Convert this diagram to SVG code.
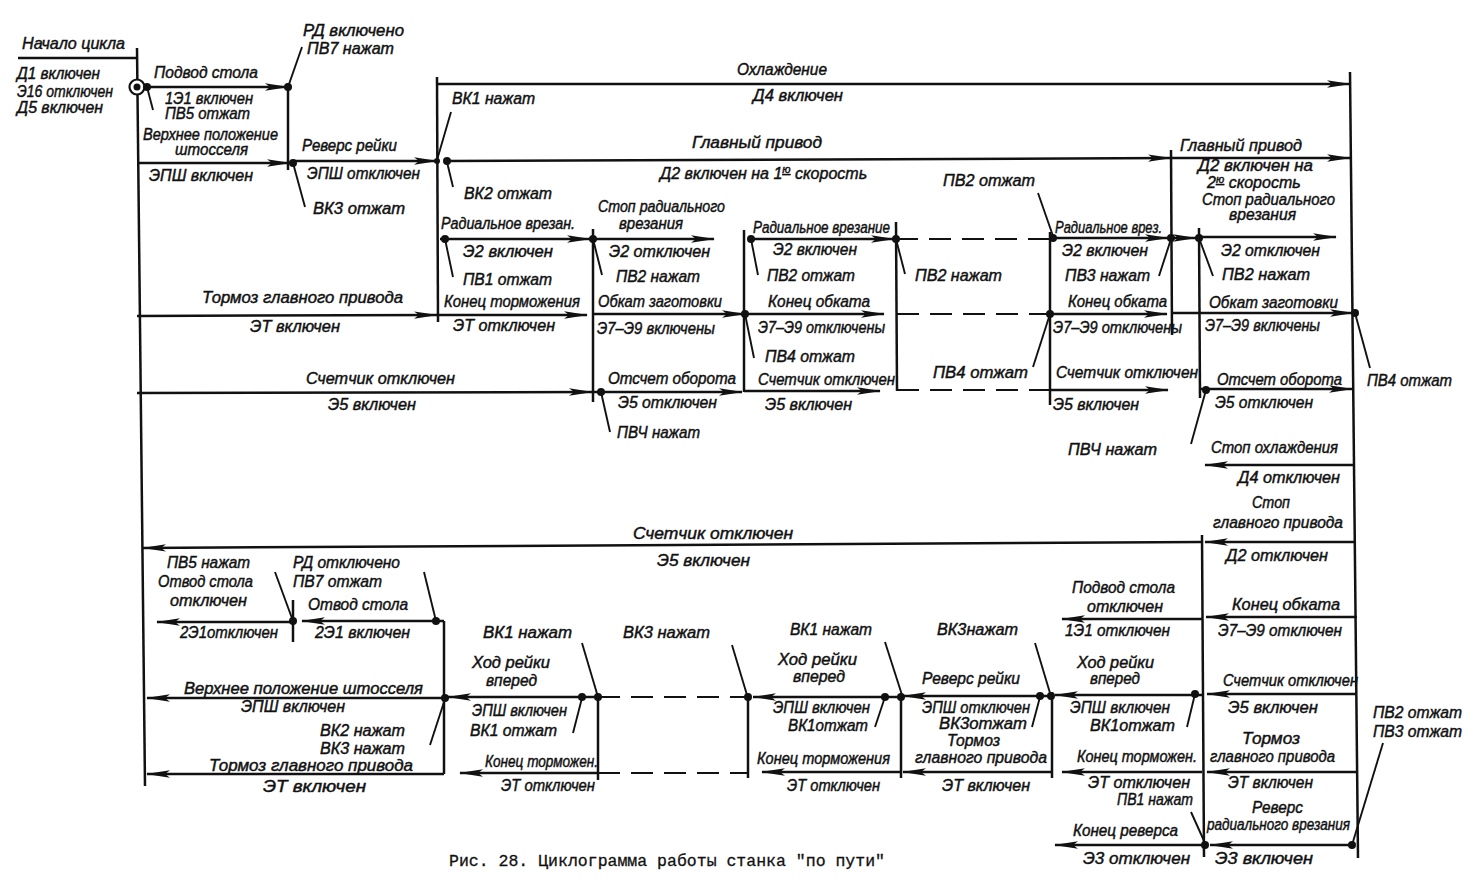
<svg xmlns="http://www.w3.org/2000/svg" width="1482" height="887" viewBox="0 0 1482 887">
<defs>
<marker id="ah" markerUnits="userSpaceOnUse" markerWidth="24" markerHeight="9" refX="23" refY="4.5" orient="auto">
<path d="M0,0.8 L24,4.5 L0,8.2 L5,4.5 z" fill="#111"/>
</marker>
</defs>
<style>
.t{font-family:"Liberation Sans",Arial,sans-serif;font-style:italic;font-size:16px;fill:#111;stroke:#111;stroke-width:0.45}
.cap{font-family:"Liberation Mono","Courier New",monospace;font-size:16.5px;fill:#111;stroke:#111;stroke-width:0.3}
.ln{stroke:#111;stroke-width:2.5;fill:none}
.ar{stroke:#111;stroke-width:2.5;fill:none;marker-end:url(#ah)}
.ds{stroke:#111;stroke-width:2.2;fill:none;stroke-dasharray:22 11}
.tk{stroke:#111;stroke-width:1.9}
.dot{fill:#111}
.sup{font-size:11px;text-decoration:underline}
</style>
<rect width="1482" height="887" fill="#fff"/>

<g id="connectors">
<line class="ln" x1="137" y1="48" x2="145" y2="786"/>
<line class="ln" x1="18" y1="58" x2="137" y2="58"/>
<line class="ln" x1="288" y1="83" x2="288" y2="170"/>
<line class="ln" x1="437" y1="77" x2="438" y2="322"/>
<line class="ln" x1="593" y1="229" x2="593" y2="402"/>
<line class="ln" x1="744" y1="230" x2="744" y2="392"/>
<line class="ln" x1="896" y1="222" x2="897" y2="391"/>
<line class="ln" x1="1050" y1="232" x2="1050" y2="405"/>
<line class="ln" x1="1171" y1="150" x2="1172" y2="335"/>
<line class="ln" x1="1199" y1="228" x2="1200" y2="398"/>
<line class="ln" x1="1350" y1="72" x2="1358" y2="858"/>
<line class="ln" x1="1202" y1="535" x2="1204" y2="857"/>
<line class="ln" x1="293" y1="600" x2="293" y2="642"/>
<line class="ln" x1="444" y1="621" x2="444" y2="774"/>
<line class="ln" x1="598" y1="697" x2="598" y2="780"/>
<line class="ln" x1="748" y1="695" x2="748" y2="778"/>
<line class="ln" x1="901" y1="697" x2="901" y2="778"/>
<line class="ln" x1="1052" y1="692" x2="1052" y2="778"/>
<line class="ar" x1="147" y1="87" x2="288" y2="87"/>
<line class="ar" x1="137" y1="163" x2="290" y2="163"/>
<line class="ar" x1="293" y1="161" x2="437" y2="161"/>
<line class="ar" x1="437" y1="84" x2="1350" y2="84"/>
<line class="ar" x1="447" y1="161" x2="1171" y2="158"/>
<line class="ar" x1="1171" y1="158" x2="1350" y2="158"/>
<line class="ar" x1="440" y1="239" x2="590" y2="239"/>
<line class="ar" x1="593" y1="239" x2="714" y2="239"/>
<line class="ar" x1="751" y1="239" x2="894" y2="239"/>
<line class="ds" x1="896" y1="239" x2="1050" y2="239"/>
<line class="ar" x1="1053" y1="238" x2="1168" y2="238"/>
<line class="ar" x1="1171" y1="238" x2="1196" y2="238"/>
<line class="ar" x1="1199" y1="237" x2="1336" y2="237"/>
<line class="ar" x1="137" y1="316" x2="437" y2="315"/>
<line class="ar" x1="438" y1="315" x2="587" y2="315"/>
<line class="ar" x1="593" y1="314" x2="745" y2="314"/>
<line class="ar" x1="745" y1="314" x2="884" y2="314"/>
<line class="ds" x1="897" y1="314" x2="1050" y2="314"/>
<line class="ar" x1="1050" y1="314" x2="1167" y2="314"/>
<line class="ar" x1="1172" y1="313" x2="1353" y2="313"/>
<line class="ar" x1="137" y1="393" x2="592" y2="392"/>
<line class="ar" x1="593" y1="392" x2="742" y2="392"/>
<line class="ar" x1="744" y1="391" x2="880" y2="391"/>
<line class="ds" x1="897" y1="390" x2="1050" y2="390"/>
<line class="ar" x1="1050" y1="390" x2="1168" y2="390"/>
<line class="ar" x1="1200" y1="389" x2="1352" y2="389"/>
<line class="ar" x1="1355" y1="465" x2="1205" y2="465"/>
<line class="ar" x1="1356" y1="542" x2="1205" y2="542"/>
<line class="ar" x1="1202" y1="542" x2="143" y2="548"/>
<line class="ar" x1="293" y1="622" x2="157" y2="622"/>
<line class="ar" x1="444" y1="621" x2="302" y2="621"/>
<line class="ar" x1="444" y1="698" x2="147" y2="698"/>
<line class="ar" x1="444" y1="774" x2="147" y2="774"/>
<line class="ar" x1="582" y1="697" x2="448" y2="697"/>
<line class="ln" x1="582" y1="697" x2="598" y2="697"/>
<line class="ds" x1="598" y1="697" x2="748" y2="697"/>
<line class="ar" x1="598" y1="773" x2="460" y2="773"/>
<line class="ds" x1="598" y1="773" x2="748" y2="773"/>
<line class="ar" x1="885" y1="697" x2="753" y2="697"/>
<line class="ln" x1="885" y1="697" x2="901" y2="697"/>
<line class="ar" x1="901" y1="772" x2="762" y2="772"/>
<line class="ar" x1="1040" y1="696" x2="903" y2="696"/>
<line class="ln" x1="1040" y1="696" x2="1052" y2="696"/>
<line class="ar" x1="1052" y1="772" x2="903" y2="772"/>
<line class="ar" x1="1202" y1="619" x2="1062" y2="619"/>
<line class="ar" x1="1357" y1="617" x2="1206" y2="617"/>
<line class="ar" x1="1202" y1="695" x2="1055" y2="695"/>
<line class="ar" x1="1357" y1="694" x2="1207" y2="694"/>
<line class="ar" x1="1357" y1="772" x2="1207" y2="772"/>
<line class="ar" x1="1202" y1="772" x2="1062" y2="772"/>
<line class="ar" x1="1352" y1="845" x2="1210" y2="845"/>
<line class="ar" x1="1204" y1="845" x2="1055" y2="845"/>
<line class="tk" x1="147" y1="87" x2="153" y2="110"/>
<line class="tk" x1="288" y1="87" x2="302" y2="47"/>
<line class="tk" x1="293" y1="163" x2="305" y2="207"/>
<line class="tk" x1="437" y1="160" x2="451" y2="112"/>
<line class="tk" x1="447" y1="162" x2="453" y2="187"/>
<line class="tk" x1="445" y1="239" x2="453" y2="277"/>
<line class="tk" x1="593" y1="239" x2="602" y2="275"/>
<line class="tk" x1="751" y1="239" x2="758" y2="275"/>
<line class="tk" x1="896" y1="239" x2="905" y2="274"/>
<line class="tk" x1="1038" y1="193" x2="1053" y2="236"/>
<line class="tk" x1="1171" y1="239" x2="1159" y2="276"/>
<line class="tk" x1="1199" y1="238" x2="1213" y2="276"/>
<line class="tk" x1="745" y1="314" x2="754" y2="358"/>
<line class="tk" x1="1050" y1="314" x2="1033" y2="367"/>
<line class="tk" x1="1355" y1="313" x2="1370" y2="368"/>
<line class="tk" x1="601" y1="392" x2="610" y2="432"/>
<line class="tk" x1="1206" y1="390" x2="1191" y2="444"/>
<line class="tk" x1="293" y1="621" x2="275" y2="572"/>
<line class="tk" x1="436" y1="621" x2="424" y2="572"/>
<line class="tk" x1="445" y1="699" x2="430" y2="745"/>
<line class="tk" x1="582" y1="643" x2="598" y2="697"/>
<line class="tk" x1="582" y1="698" x2="573" y2="733"/>
<line class="tk" x1="732" y1="645" x2="747" y2="695"/>
<line class="tk" x1="885" y1="642" x2="902" y2="695"/>
<line class="tk" x1="885" y1="697" x2="875" y2="727"/>
<line class="tk" x1="1035" y1="643" x2="1050" y2="693"/>
<line class="tk" x1="1040" y1="697" x2="1032" y2="727"/>
<line class="tk" x1="1195" y1="694" x2="1187" y2="727"/>
<line class="tk" x1="1205" y1="843" x2="1191" y2="812"/>
<line class="tk" x1="1352" y1="845" x2="1383" y2="743"/>
</g>

<g id="node-start">
<circle cx="137" cy="87" r="7.5" fill="#fff" stroke="#111" stroke-width="2.2"/>
<circle cx="137" cy="87" r="3.5" class="dot"/>
<text class="t" x="22" y="49" textLength="103" lengthAdjust="spacingAndGlyphs">Начало цикла</text>
<text class="t" x="17" y="79" textLength="83" lengthAdjust="spacingAndGlyphs">Д1 включен</text>
<text class="t" x="17" y="97" textLength="96" lengthAdjust="spacingAndGlyphs">Э16 отключен</text>
<text class="t" x="17" y="113" textLength="86" lengthAdjust="spacingAndGlyphs">Д5 включен</text>
</g>

<g id="node-podvod">
<circle cx="147" cy="87" r="4" class="dot"/>
<circle cx="288" cy="87" r="4" class="dot"/>
<text class="t" x="154" y="78" textLength="104" lengthAdjust="spacingAndGlyphs">Подвод стола</text>
<text class="t" x="165" y="104" textLength="88" lengthAdjust="spacingAndGlyphs">1Э1 включен</text>
<text class="t" x="165" y="119" textLength="85" lengthAdjust="spacingAndGlyphs">ПВ5 отжат</text>
<text class="t" x="303" y="36" textLength="101" lengthAdjust="spacingAndGlyphs">РД включено</text>
<text class="t" x="307" y="54" textLength="87" lengthAdjust="spacingAndGlyphs">ПВ7 нажат</text>
</g>

<g id="node-shtossel">
<circle cx="293" cy="163" r="4" class="dot"/>
<text class="t" x="143" y="140" textLength="135" lengthAdjust="spacingAndGlyphs">Верхнее положение</text>
<text class="t" x="175" y="155" textLength="73" lengthAdjust="spacingAndGlyphs">штосселя</text>
<text class="t" x="149" y="181" textLength="104" lengthAdjust="spacingAndGlyphs">ЭПШ включен</text>
<text class="t" x="302" y="151" textLength="95" lengthAdjust="spacingAndGlyphs">Реверс рейки</text>
<text class="t" x="307" y="179" textLength="113" lengthAdjust="spacingAndGlyphs">ЭПШ отключен</text>
<text class="t" x="313" y="214" textLength="92" lengthAdjust="spacingAndGlyphs">ВК3 отжат</text>
</g>

<g id="node-main-drive">
<circle cx="437" cy="161" r="3" class="dot"/>
<circle cx="447" cy="161" r="4" class="dot"/>
<text class="t" x="737" y="75" textLength="90" lengthAdjust="spacingAndGlyphs">Охлаждение</text>
<text class="t" x="753" y="101" textLength="90" lengthAdjust="spacingAndGlyphs">Д4 включен</text>
<text class="t" x="452" y="104" textLength="83" lengthAdjust="spacingAndGlyphs">ВК1 нажат</text>
<text class="t" x="692" y="148" textLength="130" lengthAdjust="spacingAndGlyphs">Главный привод</text>
<text class="t" x="660" y="179">Д2 включен на 1<tspan class="sup" dy="-6">ю</tspan><tspan dy="6"> скорость</tspan></text>
<text class="t" x="464" y="199" textLength="88" lengthAdjust="spacingAndGlyphs">ВК2 отжат</text>
<text class="t" x="1180" y="151" textLength="122" lengthAdjust="spacingAndGlyphs">Главный привод</text>
<text class="t" x="1198" y="171" textLength="115" lengthAdjust="spacingAndGlyphs">Д2 включен на</text>
<text class="t" x="1207" y="188">2<tspan class="sup" dy="-5">ю</tspan><tspan dy="5"> скорость</tspan></text>
</g>

<g id="node-radial">
<circle cx="445" cy="239" r="4" class="dot"/>
<circle cx="593" cy="239" r="4" class="dot"/>
<circle cx="751" cy="239" r="4" class="dot"/>
<circle cx="896" cy="239" r="4" class="dot"/>
<circle cx="1053" cy="238" r="4" class="dot"/>
<circle cx="1171" cy="238" r="4" class="dot"/>
<circle cx="1199" cy="238" r="4" class="dot"/>
<text class="t" x="441" y="229" textLength="134" lengthAdjust="spacingAndGlyphs">Радиальное врезан.</text>
<text class="t" x="463" y="257" textLength="90" lengthAdjust="spacingAndGlyphs">Э2 включен</text>
<text class="t" x="463" y="285" textLength="89" lengthAdjust="spacingAndGlyphs">ПВ1 отжат</text>
<text class="t" x="598" y="212" textLength="127" lengthAdjust="spacingAndGlyphs">Стоп радиального</text>
<text class="t" x="619" y="229" textLength="64" lengthAdjust="spacingAndGlyphs">врезания</text>
<text class="t" x="609" y="257" textLength="101" lengthAdjust="spacingAndGlyphs">Э2 отключен</text>
<text class="t" x="616" y="282" textLength="84" lengthAdjust="spacingAndGlyphs">ПВ2 нажат</text>
<text class="t" x="753" y="233" textLength="137" lengthAdjust="spacingAndGlyphs">Радиальное врезание</text>
<text class="t" x="773" y="255" textLength="84" lengthAdjust="spacingAndGlyphs">Э2 включен</text>
<text class="t" x="767" y="281" textLength="88" lengthAdjust="spacingAndGlyphs">ПВ2 отжат</text>
<text class="t" x="915" y="281" textLength="87" lengthAdjust="spacingAndGlyphs">ПВ2 нажат</text>
<text class="t" x="943" y="186" textLength="92" lengthAdjust="spacingAndGlyphs">ПВ2 отжат</text>
<text class="t" x="1055" y="233" textLength="107" lengthAdjust="spacingAndGlyphs">Радиальное врез.</text>
<text class="t" x="1062" y="256" textLength="86" lengthAdjust="spacingAndGlyphs">Э2 включен</text>
<text class="t" x="1065" y="281" textLength="85" lengthAdjust="spacingAndGlyphs">ПВ3 нажат</text>
<text class="t" x="1202" y="205" textLength="133" lengthAdjust="spacingAndGlyphs">Стоп радиального</text>
<text class="t" x="1229" y="220" textLength="67" lengthAdjust="spacingAndGlyphs">врезания</text>
<text class="t" x="1221" y="256" textLength="99" lengthAdjust="spacingAndGlyphs">Э2 отключен</text>
<text class="t" x="1222" y="280" textLength="88" lengthAdjust="spacingAndGlyphs">ПВ2 нажат</text>
</g>

<g id="node-brake">
<circle cx="745" cy="314" r="4" class="dot"/>
<circle cx="1050" cy="314" r="4" class="dot"/>
<circle cx="1355" cy="313" r="4" class="dot"/>
<text class="t" x="202" y="303" textLength="201" lengthAdjust="spacingAndGlyphs">Тормоз главного привода</text>
<text class="t" x="250" y="332" textLength="90" lengthAdjust="spacingAndGlyphs">ЭТ включен</text>
<text class="t" x="444" y="307" textLength="136" lengthAdjust="spacingAndGlyphs">Конец торможения</text>
<text class="t" x="453" y="331" textLength="102" lengthAdjust="spacingAndGlyphs">ЭТ отключен</text>
<text class="t" x="598" y="307" textLength="124" lengthAdjust="spacingAndGlyphs">Обкат заготовки</text>
<text class="t" x="597" y="334" textLength="118" lengthAdjust="spacingAndGlyphs">Э7–Э9 включены</text>
<text class="t" x="768" y="307" textLength="102" lengthAdjust="spacingAndGlyphs">Конец обката</text>
<text class="t" x="758" y="333" textLength="127" lengthAdjust="spacingAndGlyphs">Э7–Э9 отключены</text>
<text class="t" x="765" y="362" textLength="90" lengthAdjust="spacingAndGlyphs">ПВ4 отжат</text>
<text class="t" x="933" y="378" textLength="95" lengthAdjust="spacingAndGlyphs">ПВ4 отжат</text>
<text class="t" x="1068" y="307" textLength="99" lengthAdjust="spacingAndGlyphs">Конец обката</text>
<text class="t" x="1053" y="333" textLength="129" lengthAdjust="spacingAndGlyphs">Э7–Э9 отключены</text>
<text class="t" x="1209" y="308" textLength="129" lengthAdjust="spacingAndGlyphs">Обкат заготовки</text>
<text class="t" x="1205" y="331" textLength="115" lengthAdjust="spacingAndGlyphs">Э7–Э9 включены</text>
<text class="t" x="1367" y="386" textLength="85" lengthAdjust="spacingAndGlyphs">ПВ4 отжат</text>
</g>

<g id="node-counter">
<circle cx="601" cy="392" r="4" class="dot"/>
<circle cx="1206" cy="390" r="4" class="dot"/>
<text class="t" x="306" y="384" textLength="149" lengthAdjust="spacingAndGlyphs">Счетчик отключен</text>
<text class="t" x="328" y="410" textLength="88" lengthAdjust="spacingAndGlyphs">Э5 включен</text>
<text class="t" x="608" y="384" textLength="128" lengthAdjust="spacingAndGlyphs">Отсчет оборота</text>
<text class="t" x="618" y="408" textLength="99" lengthAdjust="spacingAndGlyphs">Э5 отключен</text>
<text class="t" x="617" y="438" textLength="83" lengthAdjust="spacingAndGlyphs">ПВЧ нажат</text>
<text class="t" x="758" y="385" textLength="137" lengthAdjust="spacingAndGlyphs">Счетчик отключен</text>
<text class="t" x="765" y="410" textLength="87" lengthAdjust="spacingAndGlyphs">Э5 включен</text>
<text class="t" x="1056" y="378" textLength="142" lengthAdjust="spacingAndGlyphs">Счетчик отключен</text>
<text class="t" x="1053" y="410" textLength="86" lengthAdjust="spacingAndGlyphs">Э5 включен</text>
<text class="t" x="1068" y="455" textLength="89" lengthAdjust="spacingAndGlyphs">ПВЧ нажат</text>
<text class="t" x="1217" y="385" textLength="125" lengthAdjust="spacingAndGlyphs">Отсчет оборота</text>
<text class="t" x="1215" y="408" textLength="98" lengthAdjust="spacingAndGlyphs">Э5 отключен</text>
</g>

<g id="node-stop">
<text class="t" x="1211" y="453" textLength="127" lengthAdjust="spacingAndGlyphs">Стоп охлаждения</text>
<text class="t" x="1238" y="483" textLength="102" lengthAdjust="spacingAndGlyphs">Д4 отключен</text>
<text class="t" x="1252" y="508" textLength="38" lengthAdjust="spacingAndGlyphs">Стоп</text>
<text class="t" x="1213" y="528" textLength="130" lengthAdjust="spacingAndGlyphs">главного привода</text>
<text class="t" x="1226" y="561" textLength="102" lengthAdjust="spacingAndGlyphs">Д2 отключен</text>
<text class="t" x="633" y="539" textLength="160" lengthAdjust="spacingAndGlyphs">Счетчик отключен</text>
<text class="t" x="657" y="566" textLength="93" lengthAdjust="spacingAndGlyphs">Э5 включен</text>
</g>

<g id="node-otvod">
<circle cx="293" cy="621" r="4" class="dot"/>
<circle cx="436" cy="621" r="4" class="dot"/>
<circle cx="445" cy="698" r="4" class="dot"/>
<text class="t" x="167" y="568" textLength="83" lengthAdjust="spacingAndGlyphs">ПВ5 нажат</text>
<text class="t" x="158" y="587" textLength="95" lengthAdjust="spacingAndGlyphs">Отвод стола</text>
<text class="t" x="170" y="606" textLength="77" lengthAdjust="spacingAndGlyphs">отключен</text>
<text class="t" x="293" y="568" textLength="107" lengthAdjust="spacingAndGlyphs">РД отключено</text>
<text class="t" x="293" y="587" textLength="89" lengthAdjust="spacingAndGlyphs">ПВ7 отжат</text>
<text class="t" x="308" y="610" textLength="100" lengthAdjust="spacingAndGlyphs">Отвод стола</text>
<text class="t" x="180" y="638" textLength="98" lengthAdjust="spacingAndGlyphs">2Э1отключен</text>
<text class="t" x="315" y="638" textLength="95" lengthAdjust="spacingAndGlyphs">2Э1 включен</text>
<text class="t" x="184" y="694" textLength="239" lengthAdjust="spacingAndGlyphs">Верхнее положение штосселя</text>
<text class="t" x="241" y="712" textLength="104" lengthAdjust="spacingAndGlyphs">ЭПШ включен</text>
<text class="t" x="320" y="736" textLength="85" lengthAdjust="spacingAndGlyphs">ВК2 нажат</text>
<text class="t" x="320" y="754" textLength="85" lengthAdjust="spacingAndGlyphs">ВК3 нажат</text>
<text class="t" x="209" y="771" textLength="204" lengthAdjust="spacingAndGlyphs">Тормоз главного привода</text>
<text class="t" x="263" y="792" textLength="103" lengthAdjust="spacingAndGlyphs">ЭТ включен</text>
</g>

<g id="node-rack-1">
<circle cx="582" cy="697" r="4" class="dot"/>
<circle cx="598" cy="697" r="4" class="dot"/>
<text class="t" x="483" y="638" textLength="89" lengthAdjust="spacingAndGlyphs">ВК1 нажат</text>
<text class="t" x="623" y="638" textLength="87" lengthAdjust="spacingAndGlyphs">ВК3 нажат</text>
<text class="t" x="472" y="668" textLength="78" lengthAdjust="spacingAndGlyphs">Ход рейки</text>
<text class="t" x="486" y="686" textLength="51" lengthAdjust="spacingAndGlyphs">вперед</text>
<text class="t" x="472" y="716" textLength="95" lengthAdjust="spacingAndGlyphs">ЭПШ включен</text>
<text class="t" x="470" y="736" textLength="87" lengthAdjust="spacingAndGlyphs">ВК1 отжат</text>
<text class="t" x="485" y="767" textLength="113" lengthAdjust="spacingAndGlyphs">Конец торможен.</text>
<text class="t" x="501" y="791" textLength="94" lengthAdjust="spacingAndGlyphs">ЭТ отключен</text>
</g>

<g id="node-rack-2">
<circle cx="748" cy="697" r="4" class="dot"/>
<circle cx="885" cy="697" r="4" class="dot"/>
<circle cx="901" cy="697" r="4" class="dot"/>
<text class="t" x="790" y="635" textLength="82" lengthAdjust="spacingAndGlyphs">ВК1 нажат</text>
<text class="t" x="778" y="665" textLength="79" lengthAdjust="spacingAndGlyphs">Ход рейки</text>
<text class="t" x="793" y="682" textLength="52" lengthAdjust="spacingAndGlyphs">вперед</text>
<text class="t" x="773" y="713" textLength="97" lengthAdjust="spacingAndGlyphs">ЭПШ включен</text>
<text class="t" x="788" y="731" textLength="80" lengthAdjust="spacingAndGlyphs">ВК1отжат</text>
<text class="t" x="757" y="764" textLength="133" lengthAdjust="spacingAndGlyphs">Конец торможения</text>
<text class="t" x="787" y="791" textLength="93" lengthAdjust="spacingAndGlyphs">ЭТ отключен</text>
</g>

<g id="node-rack-reverse">
<circle cx="1040" cy="696" r="4" class="dot"/>
<circle cx="1051" cy="696" r="4" class="dot"/>
<text class="t" x="937" y="635" textLength="81" lengthAdjust="spacingAndGlyphs">ВК3нажат</text>
<text class="t" x="922" y="684" textLength="98" lengthAdjust="spacingAndGlyphs">Реверс рейки</text>
<text class="t" x="922" y="713" textLength="108" lengthAdjust="spacingAndGlyphs">ЭПШ отключен</text>
<text class="t" x="939" y="729" textLength="88" lengthAdjust="spacingAndGlyphs">ВК3отжат</text>
<text class="t" x="947" y="746" textLength="53" lengthAdjust="spacingAndGlyphs">Тормоз</text>
<text class="t" x="915" y="763" textLength="132" lengthAdjust="spacingAndGlyphs">главного привода</text>
<text class="t" x="942" y="791" textLength="88" lengthAdjust="spacingAndGlyphs">ЭТ включен</text>
</g>

<g id="node-lower-right">
<circle cx="1195" cy="694" r="4" class="dot"/>
<circle cx="1205" cy="845" r="4" class="dot"/>
<circle cx="1352" cy="845" r="4" class="dot"/>
<text class="t" x="1072" y="593" textLength="103" lengthAdjust="spacingAndGlyphs">Подвод стола</text>
<text class="t" x="1087" y="612" textLength="76" lengthAdjust="spacingAndGlyphs">отключен</text>
<text class="t" x="1065" y="636" textLength="105" lengthAdjust="spacingAndGlyphs">1Э1 отключен</text>
<text class="t" x="1232" y="610" textLength="108" lengthAdjust="spacingAndGlyphs">Конец обката</text>
<text class="t" x="1218" y="636" textLength="124" lengthAdjust="spacingAndGlyphs">Э7–Э9 отключен</text>
<text class="t" x="1077" y="668" textLength="77" lengthAdjust="spacingAndGlyphs">Ход рейки</text>
<text class="t" x="1090" y="684" textLength="50" lengthAdjust="spacingAndGlyphs">вперед</text>
<text class="t" x="1223" y="686" textLength="135" lengthAdjust="spacingAndGlyphs">Счетчик отключен</text>
<text class="t" x="1070" y="713" textLength="100" lengthAdjust="spacingAndGlyphs">ЭПШ включен</text>
<text class="t" x="1228" y="713" textLength="90" lengthAdjust="spacingAndGlyphs">Э5 включен</text>
<text class="t" x="1090" y="731" textLength="85" lengthAdjust="spacingAndGlyphs">ВК1отжат</text>
<text class="t" x="1242" y="744" textLength="58" lengthAdjust="spacingAndGlyphs">Тормоз</text>
<text class="t" x="1210" y="762" textLength="125" lengthAdjust="spacingAndGlyphs">главного привода</text>
<text class="t" x="1077" y="762" textLength="120" lengthAdjust="spacingAndGlyphs">Конец торможен.</text>
<text class="t" x="1228" y="788" textLength="85" lengthAdjust="spacingAndGlyphs">ЭТ включен</text>
<text class="t" x="1088" y="788" textLength="102" lengthAdjust="spacingAndGlyphs">ЭТ отключен</text>
<text class="t" x="1117" y="805" textLength="76" lengthAdjust="spacingAndGlyphs">ПВ1 нажат</text>
<text class="t" x="1252" y="813" textLength="51" lengthAdjust="spacingAndGlyphs">Реверс</text>
<text class="t" x="1207" y="830" textLength="143" lengthAdjust="spacingAndGlyphs">радиального врезания</text>
<text class="t" x="1073" y="836" textLength="105" lengthAdjust="spacingAndGlyphs">Конец реверса</text>
<text class="t" x="1083" y="864" textLength="107" lengthAdjust="spacingAndGlyphs">Э3 отключен</text>
<text class="t" x="1215" y="864" textLength="98" lengthAdjust="spacingAndGlyphs">Э3 включен</text>
<text class="t" x="1373" y="718" textLength="89" lengthAdjust="spacingAndGlyphs">ПВ2 отжат</text>
<text class="t" x="1373" y="737" textLength="89" lengthAdjust="spacingAndGlyphs">ПВ3 отжат</text>
</g>

<g id="caption">
<text class="cap" x="449" y="866" textLength="436" lengthAdjust="spacingAndGlyphs">Рис. 28. Циклограмма работы станка "по пути"</text>
</g>
</svg>
